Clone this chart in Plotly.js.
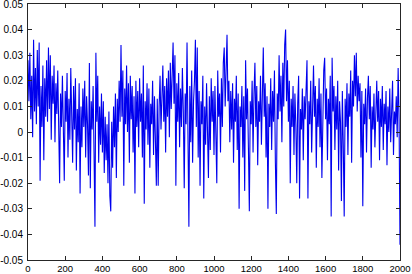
<!DOCTYPE html>
<html>
<head>
<meta charset="utf-8">
<script src="https://cdn.plot.ly/plotly-3.0.1.min.js"></script>
<style>
html,body{margin:0;padding:0;background:#fff;}
#chart{width:412px;height:274px;}
</style>
</head>
<body>
<div id="chart"></div>
<script>
const sampleStart = 0;
const sampleStep = 5;

// Signal values (one per 5 samples)
const signal = [
 .028,.012,.031,.005,.022,-.002,.036,.008,.025,.003,.032,.010,.035,-.019,.018,.002,.026,-.011,.021,.006,
 .028,.004,.033,.009,.030,-.003,.022,.011,.026,-.004,.019,.007,.024,-.008,-.020,.015,.002,.022,-.006,-.019,
 .016,.004,.023,-.010,.013,-.003,.025,.006,-.012,.018,.001,.021,-.015,.009,-.004,.019,-.024,.010,-.006,.017,
 .002,.020,-.010,.014,.003,-.017,.027,-.022,.012,.001,.018,-.008,-.037,.031,.004,.022,-.012,.010,-.005,.015,
 -.008,.012,-.016,.006,-.011,.003,-.020,.008,-.025,-.031,.004,-.014,.010,-.006,.015,-.018,.013,.000,.020,.004,
 .034,.006,.024,-.021,.017,.003,.026,.000,.019,-.012,.022,.005,.018,-.008,.014,-.024,.020,.002,.016,-.006,
 .021,.004,.015,-.010,.026,-.028,.012,.001,.019,-.005,.017,-.014,.011,.003,.020,-.009,.014,-.003,-.021,.013,
 -.021,.010,.022,.001,.016,.026,.004,.018,-.008,.021,.006,.024,-.002,.027,.009,.020,.035,.011,.030,-.021,
 .019,.004,.023,-.006,.017,.002,.025,.008,-.022,.015,.003,.035,.006,-.037,.018,-.004,.024,-.012,.012,.020,
 .036,.002,.033,-.010,.016,-.021,.012,.003,.022,-.026,.010,-.005,.019,.002,-.018,.014,-.007,.021,.004,.016,
 -.009,.018,.003,-.020,.024,.006,.015,-.008,.021,.002,.027,.033,.010,.025,.038,.012,.020,-.004,.016,.001,
 .019,-.012,.013,.004,.022,-.007,.015,-.030,.010,.002,.018,-.010,.014,-.023,.028,.005,.017,-.006,-.031,.012,
 .003,.020,-.008,.015,.027,.002,.018,-.013,.012,.004,.022,-.005,.016,.033,.006,.019,-.010,.014,-.030,.011,
 .002,.021,-.007,.016,.004,.024,-.012,-.032,.015,.005,.030,.008,.022,-.004,.027,.010,.034,.040,.012,.028,
 .004,.020,-.020,.013,.002,.018,-.009,.015,.003,-.020,.011,.022,-.026,.009,.001,.017,-.011,.014,.005,.019,
 .028,-.026,.012,.003,.020,-.008,.016,.026,.006,.018,-.014,.013,.002,.021,-.006,.015,-.018,.010,.024,.029,
 .005,.017,-.011,.013,.003,.022,-.033,.029,.008,.018,-.007,.014,.001,.020,-.015,.012,.004,-.027,.016,-.005,
 -.033,.013,.002,.019,-.009,.015,.006,.024,-.012,.020,.010,.030,.014,.031,.008,.022,.012,.019,-.010,.016,
 -.029,.011,.003,.017,-.008,.013,.022,.005,.018,-.014,.010,.001,.015,-.006,.012,.020,.004,.016,-.011,.013,
 .002,.018,-.007,.011,.003,.016,-.013,.010,.000,.017,-.004,.012,.020,-.009,.008,.003,.014,-.002,.025,.005,
 -.044
];

// Axis ticks and labels
const xTickVals = [0,200,400,600,800,1000,1200,1400,1600,1800,2000];
const xTickText = ['0','200','400','600','800','1000','1200','1400','1600','1800','2000'];
const yTickVals = [-0.05,-0.04,-0.03,-0.02,-0.01,0,0.01,0.02,0.03,0.04,0.05];
const yTickText = ['-0.05','-0.04','-0.03','-0.02','-0.01','0','0.01','0.02','0.03','0.04','0.05'];

const axisCommon = {
  showgrid: false,
  zeroline: false,
  showline: true,
  linecolor: '#262626',
  linewidth: 1,
  mirror: 'ticks',
  ticks: 'inside',
  ticklen: 4,
  tickcolor: '#262626',
  tickwidth: 1,
  tickmode: 'array',
  ticklabeloverflow: 'allow',
  tickfont: {family: 'Liberation Sans, Arial, sans-serif', size: 10, color: '#000'}
};

const trace = {
  type: 'scatter',
  mode: 'lines',
  y: signal,
  x0: sampleStart,
  dx: sampleStep,
  line: {color: '#0000ee', width: 1.1},
  hoverinfo: 'none'
};

const layout = {
  width: 412,
  height: 274,
  margin: {l: 28, r: 12, t: 4, b: 14, pad: 0},
  paper_bgcolor: '#ffffff',
  plot_bgcolor: '#ffffff',
  showlegend: false,
  xaxis: Object.assign({}, axisCommon, {
    range: [0, 2000], tickvals: xTickVals, ticktext: xTickText, ticklabelstandoff: 0,
    tickfont: {family: 'Liberation Sans, Arial, sans-serif', size: 9.5, color: '#000'}
  }),
  yaxis: Object.assign({}, axisCommon, {
    range: [-0.05, 0.05], tickvals: yTickVals, ticktext: yTickText, ticklabelstandoff: 2
  })
};

Plotly.newPlot('chart', [trace], layout, {staticPlot: true, displayModeBar: false});
</script>
</body>
</html>
